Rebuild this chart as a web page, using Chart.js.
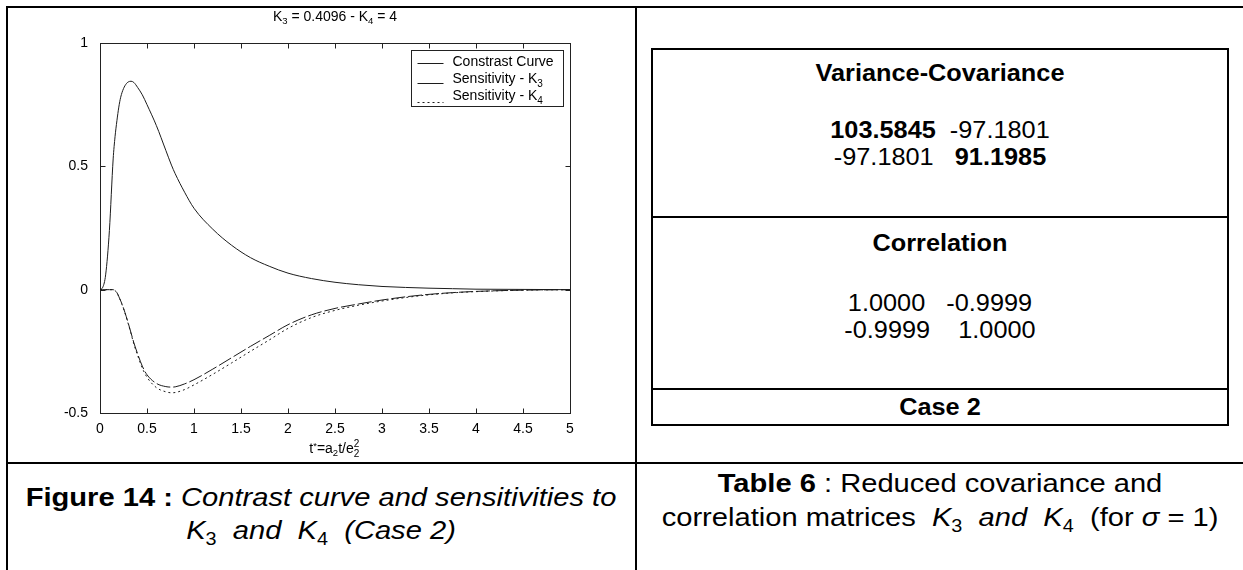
<!DOCTYPE html>
<html>
<head>
<meta charset="utf-8">
<script src="https://cdn.jsdelivr.net/npm/chart.js@4.4.1/dist/chart.umd.min.js"></script>
<style>
  html, body { margin: 0; padding: 0; background: #fff; width: 1243px; height: 570px; overflow: hidden;
    font-family: 'Liberation Sans', Arial, Helvetica, sans-serif; color: #000; }
  .ln { position: absolute; background: #000; }
  #plot { position: absolute; left: 8px; top: 8px; }
  .t { position: absolute; white-space: pre; line-height: 1; transform: translate(-50%, -50%); }
  .cap { font-size: 26px; transform: translate(-50%, -50%) scaleX(1.12); }
  .tab { font-size: 23px; transform: translate(-50%, -50%) scaleX(1.1); }
  .small { font-size: 14px; }
  sub { font-size: 0.68em; vertical-align: -0.35em; line-height: 0; }
  sup { font-size: 0.68em; vertical-align: 0.45em; line-height: 0; }
  .xl { position: absolute; white-space: pre; font-size: 14px; line-height: 14px; height: 14px;
        transform: translateX(-50%); }
  .ss { position: relative; display: inline-block; width: 7px; height: 14px; vertical-align: top; }
  .ss span { position: absolute; left: 0; font-size: 10px; line-height: 10px; }
</style>
</head>
<body>
<!-- page frame -->
<div class="ln" style="left:6px;top:6px;width:1237px;height:2px"></div>
<div class="ln" style="left:6px;top:6px;width:2px;height:564px"></div>
<div class="ln" style="left:635px;top:6px;width:2px;height:564px"></div>
<div class="ln" style="left:6px;top:462px;width:1237px;height:2px"></div>

<canvas id="plot" width="627" height="454"></canvas>

<div class="t small" style="left:335px;top:16px">K<sub>3</sub> = 0.4096 - K<sub>4</sub> = 4</div>
<div class="xl" style="left:335px;top:441px">t<sup>*</sup>=a<sub>2</sub>t/e<span class="ss"><span style="top:-2px">2</span><span style="top:8px">2</span></span></div>

<!-- matrix table -->
<div class="ln" style="left:651px;top:48px;width:578px;height:2px"></div>
<div class="ln" style="left:651px;top:48px;width:2px;height:378px"></div>
<div class="ln" style="left:1227px;top:48px;width:2px;height:378px"></div>
<div class="ln" style="left:651px;top:216px;width:578px;height:2px"></div>
<div class="ln" style="left:651px;top:388px;width:578px;height:2px"></div>
<div class="ln" style="left:651px;top:424px;width:578px;height:2px"></div>

<div class="t tab" style="left:940px;top:73px"><b>Variance-Covariance</b></div>
<div class="t tab" style="left:940px;top:130px"><b>103.5845</b>  -97.1801</div>
<div class="t tab" style="left:940px;top:157px">-97.1801   <b>91.1985</b></div>
<div class="t tab" style="left:940px;top:243px"><b>Correlation</b></div>
<div class="t tab" style="left:940px;top:303px">1.0000   -0.9999</div>
<div class="t tab" style="left:940px;top:330px">-0.9999    1.0000</div>
<div class="t tab" style="left:940px;top:407px"><b>Case 2</b></div>

<!-- captions -->
<div class="t cap" style="left:321px;top:497px"><b>Figure 14 :</b> <i>Contrast curve and sensitivities to</i></div>
<div class="t cap" style="left:321px;top:530px"><i>K</i><sub>3</sub>  <i>and</i>  <i>K</i><sub>4</sub>  <i>(Case 2)</i></div>
<div class="t cap" style="left:940px;top:483px"><b>Table 6</b> : Reduced covariance and</div>
<div class="t cap" style="left:940px;top:517px">correlation matrices  <i>K</i><sub>3</sub>  <i>and</i>  <i>K</i><sub>4</sub>  (for <i>σ</i> = 1)</div>

<script>
// dimensionless time t* = a2 t / e2^2
const T = [0, 0.03, 0.06, 0.1, 0.14, 0.16, 0.18, 0.2, 0.22, 0.25, 0.28, 0.3, 0.33, 0.36, 0.4, 0.45,
           0.5, 0.6, 0.7, 0.76, 0.8, 0.9, 1.0, 1.2, 1.4, 1.6, 1.8, 2.0, 2.25, 2.5, 2.75, 3.0,
           3.25, 3.5, 3.75, 4.0, 4.5, 5.0];
const CONTRAST = [0, 0.01, 0.06, 0.24, 0.53, 0.62, 0.685, 0.74, 0.78, 0.815, 0.835, 0.842, 0.845, 0.84, 0.82, 0.79,
                  0.75, 0.665, 0.565, 0.505, 0.47, 0.395, 0.33, 0.245, 0.18, 0.13, 0.095, 0.067, 0.045, 0.03, 0.02, 0.013,
                  0.009, 0.006, 0.004, 0.002, 0.001, 0];
const SENS_K3 = [0, 0, 0, 0, 0, -0.004, -0.012, -0.028, -0.045, -0.075, -0.11, -0.135, -0.175, -0.215, -0.26, -0.31,
                 -0.345, -0.38, -0.393, -0.395, -0.394, -0.382, -0.365, -0.322, -0.276, -0.23, -0.186, -0.142, -0.102, -0.076, -0.058, -0.042,
                 -0.029, -0.019, -0.012, -0.007, -0.002, 0];
const SENS_K4 = [0, 0, 0, 0, 0, -0.004, -0.012, -0.028, -0.046, -0.077, -0.112, -0.138, -0.178, -0.22, -0.266, -0.318,
                 -0.355, -0.397, -0.414, -0.418, -0.417, -0.405, -0.386, -0.343, -0.297, -0.25, -0.204, -0.157, -0.113, -0.084, -0.063, -0.046,
                 -0.032, -0.021, -0.013, -0.008, -0.002, 0];
const SERIES_LABELS = ['Constrast Curve', 'Sensitivity - K_3', 'Sensitivity - K_4'];
const X_TICKS = [0, 0.5, 1, 1.5, 2, 2.5, 3, 3.5, 4, 4.5, 5];
const X_TICK_LABELS = ['0', '0.5', '1', '1.5', '2', '2.5', '3', '3.5', '4', '4.5', '5'];
const Y_TICKS = [-0.5, 0, 0.5, 1];
const Y_TICK_LABELS = ['-0.5', '0', '0.5', '1'];

const FONT = "'Liberation Sans', Arial, Helvetica, sans-serif";
Chart.defaults.font.family = FONT;

const points = ys => T.map((t, i) => ({ x: t, y: ys[i] }));
const lineStyle = { borderColor: '#1c1c1c', borderWidth: 1, pointRadius: 0, fill: false,
                    cubicInterpolationMode: 'monotone' };

// box axes with inward tick marks on all four sides
const axesFrame = {
  id: 'axesFrame',
  beforeDatasetsDraw(chart) {
    const { ctx, chartArea: a, scales } = chart;
    const L = Math.round(a.left) + 0.5, R = Math.round(a.right) + 0.5;
    const Tp = Math.round(a.top) + 0.5, B = Math.round(a.bottom) + 0.5;
    const len = 5;
    ctx.save();
    ctx.strokeStyle = '#222';
    ctx.lineWidth = 1;
    ctx.strokeRect(L, Tp, R - L, B - Tp);
    ctx.beginPath();
    X_TICKS.forEach(v => {
      const x = Math.round(scales.x.getPixelForValue(v)) + 0.5;
      ctx.moveTo(x, B); ctx.lineTo(x, B - len);
      ctx.moveTo(x, Tp); ctx.lineTo(x, Tp + len);
    });
    Y_TICKS.forEach(v => {
      const y = Math.round(scales.y.getPixelForValue(v)) + 0.5;
      ctx.moveTo(L, y); ctx.lineTo(L + len, y);
      ctx.moveTo(R, y); ctx.lineTo(R - len, y);
    });
    ctx.stroke();
    ctx.restore();
  }
};

// boxed legend in the upper right corner, labels may carry a subscript after '_'
const legendBox = {
  id: 'legendBox',
  afterDatasetsDraw(chart) {
    const { ctx, chartArea: a } = chart;
    const w = 152, h = 56;
    const x0 = Math.round(a.right - 7 - w) + 0.5, y0 = Math.round(a.top + 7) + 0.5;
    ctx.save();
    ctx.fillStyle = '#fff';
    ctx.fillRect(x0, y0, w, h);
    ctx.strokeStyle = '#222';
    ctx.lineWidth = 1;
    ctx.setLineDash([]);
    ctx.strokeRect(x0, y0, w, h);
    chart.data.datasets.forEach((ds, i) => {
      const yc = y0 + 12 + i * 17;
      ctx.strokeStyle = ds.borderColor;
      ctx.setLineDash(ds.legendDash || ds.borderDash || []);
      ctx.beginPath();
      const ly = Math.round(yc + (i === 0 ? 0 : i === 1 ? 3 : 5)) + 0.5;
      ctx.moveTo(x0 + 6, ly); ctx.lineTo(x0 + 32, ly);
      ctx.stroke();
      const [main, sub] = ds.label.split('_');
      ctx.fillStyle = '#000';
      ctx.textBaseline = 'middle';
      ctx.textAlign = 'left';
      ctx.font = '14px ' + FONT;
      ctx.fillText(main, x0 + 41, yc);
      if (sub) {
        const mw = ctx.measureText(main).width;
        ctx.font = '10px ' + FONT;
        ctx.fillText(sub, x0 + 41 + mw, yc + 5);
      }
    });
    ctx.restore();
  }
};

new Chart(document.getElementById('plot'), {
  type: 'line',
  data: {
    datasets: [
      Object.assign({ label: SERIES_LABELS[0], data: points(CONTRAST) }, lineStyle),
      Object.assign({ label: SERIES_LABELS[1], data: points(SENS_K3), borderDash: [14, 3], legendDash: [26, 4] }, lineStyle),
      Object.assign({ label: SERIES_LABELS[2], data: points(SENS_K4), borderDash: [2, 3] }, lineStyle)
    ]
  },
  options: {
    responsive: false,
    animation: false,
    devicePixelRatio: 1,
    layout: { padding: { left: 0, top: 35, right: 65, bottom: 0 } },
    plugins: { legend: { display: false }, title: { display: false }, tooltip: { enabled: false } },
    scales: {
      x: {
        type: 'linear', min: 0, max: 5,
        grid: { display: false }, border: { display: false },
        afterBuildTicks: s => { s.ticks = X_TICKS.map(v => ({ value: v })); },
        afterFit: s => { s.height = 49; },
        ticks: { padding: 0, maxRotation: 0, autoSkip: false, color: '#000', font: { size: 14 },
                 callback: v => X_TICK_LABELS[X_TICKS.indexOf(v)] }
      },
      y: {
        type: 'linear', min: -0.5, max: 1,
        grid: { display: false }, border: { display: false },
        afterBuildTicks: s => { s.ticks = Y_TICKS.map(v => ({ value: v })); },
        afterFit: s => { s.width = 92; },
        ticks: { padding: 4, autoSkip: false, color: '#000', font: { size: 14 },
                 callback: v => Y_TICK_LABELS[Y_TICKS.indexOf(v)] }
      }
    }
  },
  plugins: [axesFrame, legendBox]
});
</script>
</body>
</html>
